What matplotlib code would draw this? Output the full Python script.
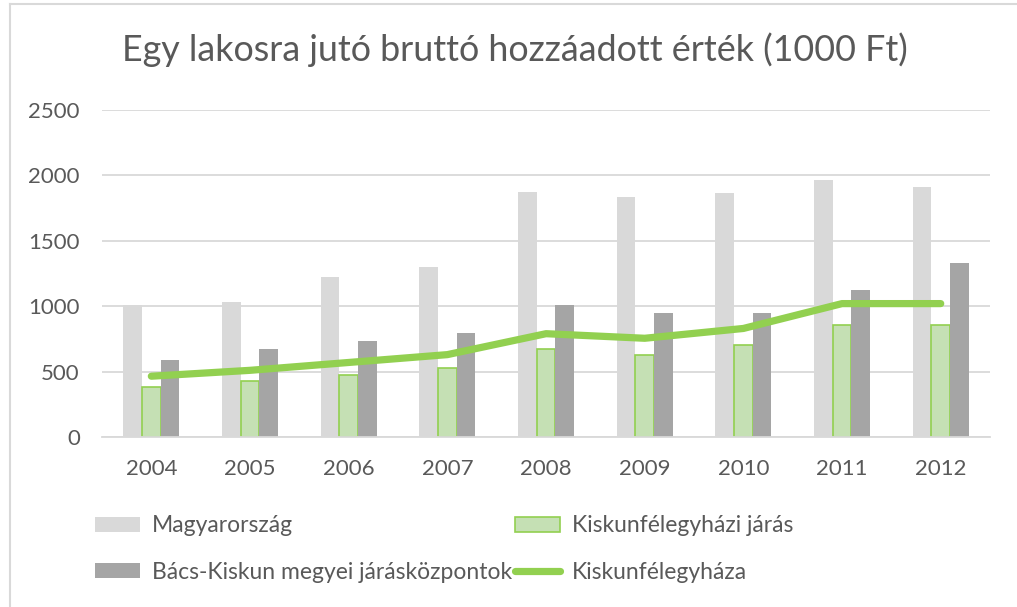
import numpy as np
import matplotlib.pyplot as plt
from matplotlib.lines import Line2D

plt.rcParams['font.family'] = ['Lato', 'DejaVu Sans']

years = ['2004', '2005', '2006', '2007', '2008', '2009', '2010', '2011', '2012']
magyarorszag = [1010, 1030, 1220, 1300, 1875, 1835, 1865, 1965, 1915]
kisk_jaras = [385, 425, 475, 530, 675, 630, 705, 860, 860]
bacs_kiskun = [590, 675, 735, 795, 1010, 950, 950, 1125, 1330]
kisk_varos = [465, 510, 570, 630, 790, 755, 830, 1020, 1020]

c_mag = '#D9D9D9'
c_jaras_face = '#C5E0B4'
c_green = '#92D050'
c_dark = '#A5A5A5'
c_text = '#595959'

fig = plt.figure(figsize=(10.17, 6.07), dpi=100)
ax = fig.add_axes([0.1003, 0.280, 0.8732, 0.5388])

x = np.arange(len(years))
w = 0.19
b1 = ax.bar(x - w, magyarorszag, w, color=c_mag, label='Magyarország', zorder=2)
b2 = ax.bar(x, kisk_jaras, w, color=c_jaras_face, edgecolor=c_green, linewidth=1.2,
            label='Kiskunfélegyházi járás', zorder=2)
b3 = ax.bar(x + w, bacs_kiskun, w, color=c_dark,
            label='Bács-Kiskun megyei járásközpontok', zorder=2)
ln, = ax.plot(x, kisk_varos, color=c_green, linewidth=5.2, solid_capstyle='round',
              solid_joinstyle='round', label='Kiskunfélegyháza', zorder=3)

ax.set_xlim(-0.5, len(years) - 0.5)
ax.set_ylim(0, 2500)
ax.set_yticks(range(0, 2501, 500))
ax.set_xticks(x)
ax.set_xticklabels(years)
ax.yaxis.grid(True, color='#D9D9D9', linewidth=1.3, zorder=0)
ax.set_axisbelow(True)
for s in ['top', 'right', 'left']:
    ax.spines[s].set_visible(False)
ax.spines['bottom'].set_color('#D9D9D9')
ax.spines['bottom'].set_linewidth(1.3)
ax.tick_params(length=0, labelsize=16, colors=c_text)
ax.tick_params(axis='y', pad=16)
ax.tick_params(axis='x', pad=16)

fig.text(0.506, 0.918, 'Egy lakosra jutó bruttó hozzáadott érték (1000 Ft)',
         ha='center', va='center', fontsize=25.8, color=c_text)

handles = [b1, b3, b2, ln]
labels = [h.get_label() for h in handles]
leg = fig.legend(handles, labels, ncol=2,
                 loc='upper left', bbox_to_anchor=(0.0934, 0.151), frameon=False,
                 fontsize=16.5, labelcolor=c_text, borderpad=0, borderaxespad=0,
                 handlelength=1.95, handleheight=0.6, handletextpad=0.52,
                 columnspacing=0.15, labelspacing=1.1)

# chart border
fig.add_artist(Line2D([0.0098, 0.0098], [0, 0.994], transform=fig.transFigure,
                      color='#D9D9D9', linewidth=1.5))
fig.add_artist(Line2D([0.0098, 1.0], [0.994, 0.994], transform=fig.transFigure,
                      color='#D9D9D9', linewidth=1.5))

fig.savefig('out.png', dpi=100)
